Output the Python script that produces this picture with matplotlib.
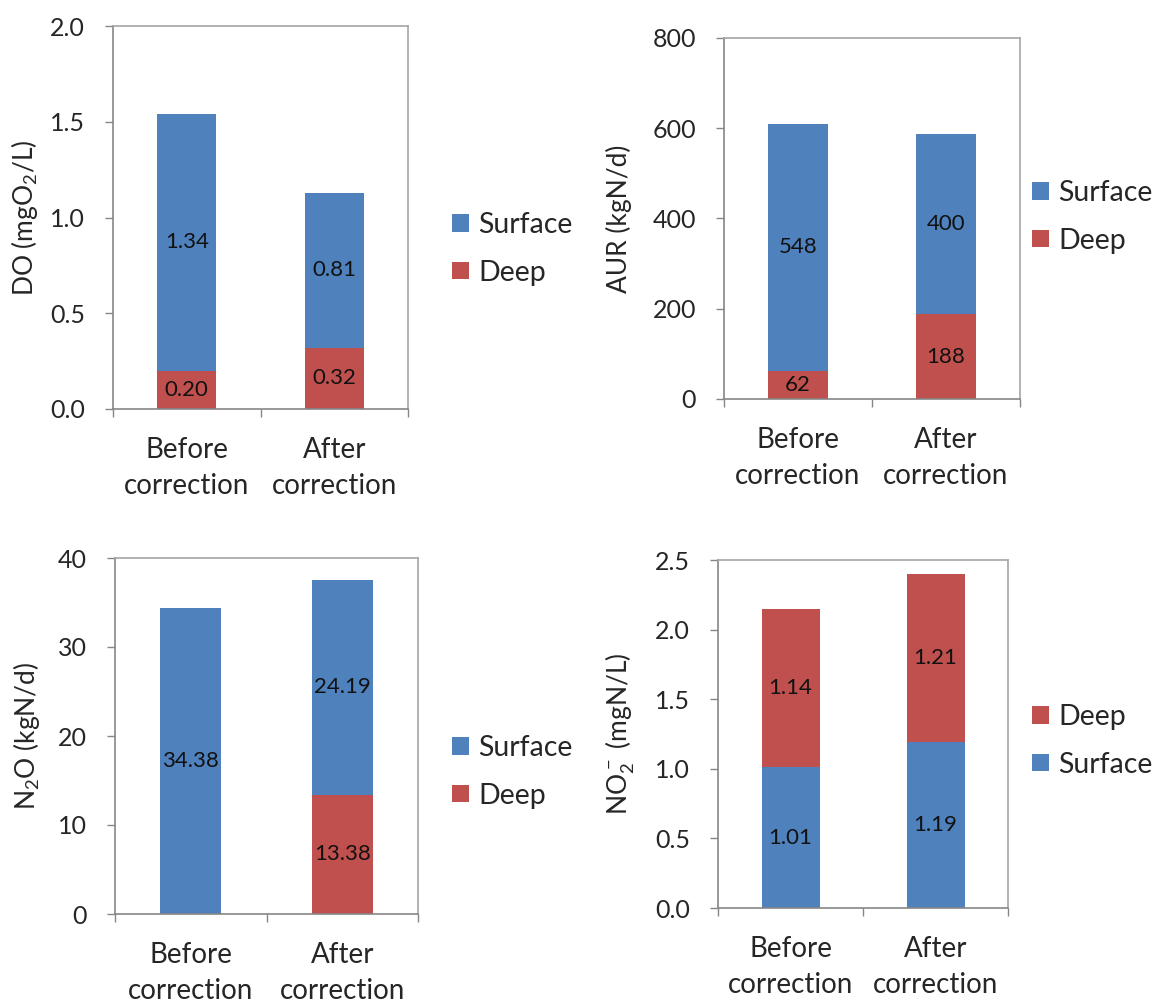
import matplotlib
matplotlib.use("Agg")
import matplotlib.pyplot as plt
from matplotlib.patches import Patch
from matplotlib.ticker import FormatStrFormatter

plt.rcParams['font.family'] = ['Lato', 'DejaVu Sans']
plt.rcParams['mathtext.default'] = 'regular'

# data

categories = ["Before\ncorrection", "After\ncorrection"]

do_surface = [1.34, 0.81]
do_deep = [0.20, 0.32]

aur_surface = [548, 400]
aur_deep = [62, 188]

n2o_surface = [34.38, 24.19]
n2o_deep = [0, 13.38]

no2_surface = [1.01, 1.19]
no2_deep = [1.14, 1.21]

BLUE = '#4F81BD'
RED = '#C0504D'
TXT = '#262626'

W, H = 1158, 1008
fig = plt.figure(figsize=(W / 100, H / 100), dpi=100)


def px_axes(left, right, top, bottom):
    return fig.add_axes([left / W, 1 - bottom / H, (right - left) / W, (bottom - top) / H])


def panel(box, bottom_vals, top_vals, bottom_color, top_color, fmt,
          ylim, ystep, yfmt, ylabel, label_right, legend_order, legend_pos):
    ax = px_axes(*box)
    x = list(range(len(categories)))
    ax.bar(x, bottom_vals, width=0.4, color=bottom_color, edgecolor='none', zorder=2)
    ax.bar(x, top_vals, width=0.4, bottom=bottom_vals, color=top_color, edgecolor='none', zorder=2)
    for i in x:
        if bottom_vals[i] > 0:
            ax.text(i, bottom_vals[i] / 2, fmt % bottom_vals[i], ha='center', va='center',
                    fontsize=16, color='#111111', zorder=3)
        if top_vals[i] > 0:
            ax.text(i, bottom_vals[i] + top_vals[i] / 2, fmt % top_vals[i], ha='center',
                    va='center', fontsize=16, color='#111111', zorder=3)

    ax.set_xlim(-0.5, 1.5)
    ax.set_ylim(*ylim)
    ticks = []
    v = ylim[0]
    while v <= ylim[1] + 1e-9:
        ticks.append(v)
        v += ystep
    ax.set_yticks(ticks)
    ax.yaxis.set_major_formatter(FormatStrFormatter(yfmt))
    ax.tick_params(axis='y', direction='out', length=6, width=1, color='#868686',
                   labelsize=18, labelcolor=TXT, pad=14)

    # category boundaries get the ticks, centres get the labels
    ax.set_xticks([-0.5, 0.5, 1.5])
    ax.set_xticklabels([])
    ax.set_xticks(x, minor=True)
    ax.set_xticklabels(categories, minor=True, fontsize=20, color=TXT, linespacing=1.5)
    ax.tick_params(axis='x', which='major', direction='out', length=6, width=1, color='#868686')
    ax.tick_params(axis='x', which='minor', length=0, pad=20)

    for s in ['left', 'bottom']:
        ax.spines[s].set_color('#868686')
        ax.spines[s].set_linewidth(1.2)
    for s in ['top', 'right']:
        ax.spines[s].set_color('#a6a6a6')
        ax.spines[s].set_linewidth(1.2)

    ax.set_ylabel(ylabel, fontsize=19, color=TXT)
    ax.yaxis.set_label_coords((label_right - box[0]) / (box[1] - box[0]), 0.5)

    colors = {'Surface': BLUE, 'Deep': RED}
    handles = [Patch(facecolor=colors[n], edgecolor='none', label=n) for n in legend_order]
    ax.legend(handles=handles, loc='center left',
              bbox_to_anchor=(legend_pos[0] / W, 1 - legend_pos[1] / H),
              bbox_transform=fig.transFigure, frameon=False, fontsize=20.5,
              handlelength=0.58, handleheight=0.58, handletextpad=0.35,
              labelspacing=0.75, borderpad=0, borderaxespad=0, labelcolor=TXT)
    return ax


panel((113, 408, 26, 409), do_deep, do_surface, RED, BLUE, '%.2f',
      (0, 2.0), 0.5, '%.1f', 'DO (mgO$_2$/L)', 40, ['Surface', 'Deep'], (452, 249))

panel((724, 1020, 38, 399), aur_deep, aur_surface, RED, BLUE, '%d',
      (0, 800), 200, '%d', 'AUR (kgN/d)', 632, ['Surface', 'Deep'], (1032, 217))

panel((115, 418, 558, 914), n2o_deep, n2o_surface, RED, BLUE, '%.2f',
      (0, 40), 10, '%d', 'N$_2$O (kgN/d)', 42, ['Surface', 'Deep'], (452, 772))

panel((718, 1008, 560, 908), no2_surface, no2_deep, BLUE, RED, '%.2f',
      (0, 2.5), 0.5, '%.1f', 'NO$_2^-$ (mgN/L)', 636, ['Deep', 'Surface'], (1032, 741))

plt.savefig('out.png', dpi=100)
